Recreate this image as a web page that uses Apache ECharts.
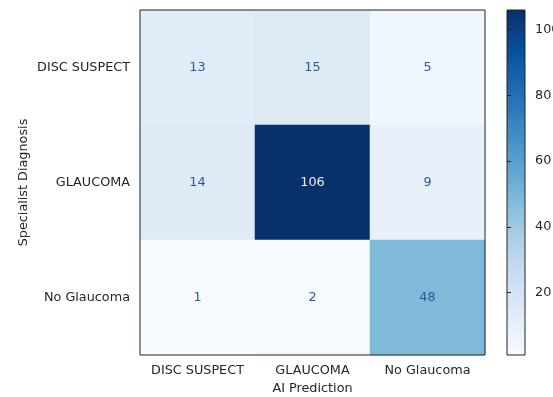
<!DOCTYPE html>
<html>
<head>
<meta charset="utf-8">
<script src="https://cdn.jsdelivr.net/npm/echarts@6/dist/echarts.min.js"></script>
<style>
html, body { margin: 0; padding: 0; background: #fff; }
#chart { width: 553px; height: 397px; }
</style>
</head>
<body>
<div id="chart"></div>
<script>
// predicted classes (columns) and true classes (rows)
var predLabels = ['DISC SUSPECT', 'GLAUCOMA', 'No Glaucoma'];
var trueLabels = ['DISC SUSPECT', 'GLAUCOMA', 'No Glaucoma'];
// counts, one array per specialist row
var rowDisc = [13, 15, 5];
var rowGlaucoma = [14, 106, 9];
var rowNoGlaucoma = [1, 2, 48];
var barTicks = [20, 40, 60, 80, 100];

var rows = [rowDisc, rowGlaucoma, rowNoGlaucoma];
var blues = ['#f7fbff', '#deebf7', '#c6dbef', '#9ecae1', '#6baed6', '#4292c6', '#2171b5', '#08519c', '#08306b'];
var vmin = 1, vmax = 106;
var font = 'DejaVu Sans';
var ink = '#262626';
var fs = 12.8;

var cells = [];
rows.forEach(function (row, r) {
  row.forEach(function (v, c) {
    cells.push({
      value: [c, r, v],
      label: { color: v > (vmin + vmax) / 2 ? '#eef3fa' : '#2d5898' }
    });
  });
});

// colorbar gradient, bottom = low, top = high
var barStops = blues.map(function (col, i) {
  return { offset: 1 - i / (blues.length - 1), color: col };
});

var chart = echarts.init(document.getElementById('chart'));
chart.setOption({
  animation: false,
  textStyle: { fontFamily: font },
  grid: [
    { left: 140, top: 10, width: 345, height: 345, show: true, z: 10,
      outerBoundsMode: 'none', containLabel: false,
      backgroundColor: 'transparent', borderColor: '#222', borderWidth: 1 },
    { left: 507, top: 10, width: 18, height: 345, show: true,
      outerBoundsMode: 'none', containLabel: false,
      backgroundColor: new echarts.graphic.LinearGradient(0, 0, 0, 1, barStops),
      borderColor: '#222', borderWidth: 1 }
  ],
  xAxis: [{
    type: 'category',
    data: predLabels,
    name: 'AI Prediction',
    nameLocation: 'middle',
    nameGap: 27,
    nameTextStyle: { fontSize: fs, color: ink },
    axisLine: { show: false },
    axisTick: { alignWithLabel: true, length: 4, lineStyle: { color: ink } },
    axisLabel: { fontSize: fs, color: ink, margin: 9, interval: 0, hideOverlap: false },
    splitLine: { show: false }
  }, {
    gridIndex: 1, type: 'value', show: false
  }],
  yAxis: [{
    type: 'category',
    data: trueLabels,
    inverse: true,
    name: 'Specialist Diagnosis',
    nameLocation: 'middle',
    nameGap: 110,
    nameMoveOverlap: false,
    nameTextStyle: { fontSize: fs, color: ink },
    axisLine: { show: false },
    axisTick: { alignWithLabel: true, length: 4, lineStyle: { color: ink } },
    axisLabel: { fontSize: fs, color: ink, margin: 10, interval: 0 },
    splitLine: { show: false }
  }, {
    gridIndex: 1,
    type: 'value',
    min: vmin,
    max: vmax,
    position: 'right',
    axisLine: { show: false },
    axisTick: { show: true, length: 4, customValues: barTicks, lineStyle: { color: ink } },
    axisLabel: { fontSize: fs, color: ink, margin: 10, customValues: barTicks },
    splitLine: { show: false }
  }],
  visualMap: {
    show: false,
    type: 'continuous',
    min: vmin,
    max: vmax,
    seriesIndex: 0,
    inRange: { color: blues }
  },
  series: [{
    type: 'heatmap',
    data: cells,
    label: { show: true, fontSize: fs, fontFamily: font,
      formatter: function (p) { return p.value[2]; } },
    emphasis: { disabled: true }
  }]
});
</script>
</body>
</html>
